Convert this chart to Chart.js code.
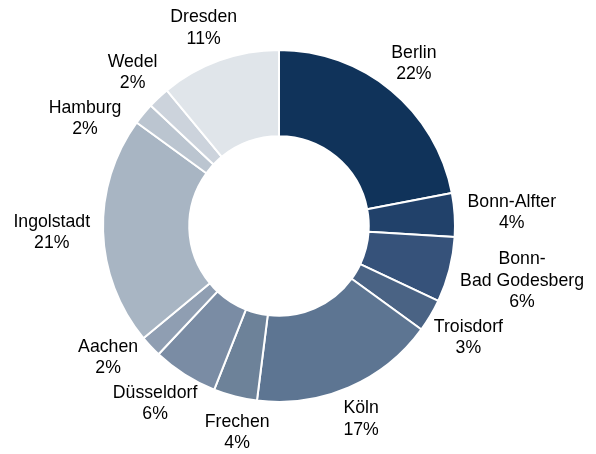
<!DOCTYPE html>
<html><head><meta charset="utf-8">
<script src="https://cdn.jsdelivr.net/npm/chart.js@4/dist/chart.umd.min.js"></script>
<style>html,body{margin:0;padding:0;background:#fff}canvas{display:block}</style>
</head><body>
<canvas id="c" width="596" height="454"></canvas>
<script>
const categories = ['Berlin','Bonn-Alfter','Bonn-\nBad Godesberg','Troisdorf','Köln','Frechen','Düsseldorf','Aachen','Ingolstadt','Hamburg','Wedel','Dresden'];
const shares = [22,4,6,3,17,4,6,2,21,2,2,11];
const sliceColors = ['#10335A','#21416A','#36527A','#4A6384','#5D7592','#6D8299','#7A8CA4','#8F9EB2','#A8B5C3','#BBC5D0','#CCD3DC','#E0E5EA'];

const outsideLabels = {
  id: 'outsideLabels',
  afterDatasetsDraw(chart) {
    const ctx = chart.ctx;
    const meta = chart.getDatasetMeta(0);
    const data = chart.data.datasets[0].data;
    const total = data.reduce((a, b) => a + b, 0);
    ctx.save();
    ctx.font = '17.7px "Liberation Sans", Arial, sans-serif';
    ctx.fillStyle = '#000';
    ctx.textAlign = 'center';
    ctx.textBaseline = 'middle';
    const LH = 21.5, GAP = 13, PAD = 3;
    const items = meta.data.map((arc, i) => {
      const p = arc.getProps(['x', 'y', 'startAngle', 'endAngle', 'outerRadius'], true);
      const lines = String(chart.data.labels[i]).split('\n').concat([Math.round(data[i] / total * 100) + '%']);
      const w = Math.max(...lines.map(l => ctx.measureText(l).width));
      const h = lines.length * LH;
      return { i, p, lines, w, h, mid: (p.startAngle + p.endAngle) / 2, v: data[i] };
    });
    const order = items.slice().sort((a, b) => b.v - a.v || b.i - a.i);
    const placed = [];
    const boxAt = (it, ang) => {
      const r = it.p.outerRadius + GAP;
      const c = Math.cos(ang), s = Math.sin(ang);
      const cx = it.p.x + r * c + c * it.w / 2;
      const cy = it.p.y + r * s + s * it.h / 2;
      return { cx, cy, x0: cx - it.w / 2 - PAD, x1: cx + it.w / 2 + PAD, y0: cy - it.h / 2 - 1, y1: cy + it.h / 2 + 1 };
    };
    const hits = b => placed.some(q => b.x0 < q.x1 && b.x1 > q.x0 && b.y0 < q.y1 && b.y1 > q.y0);
    order.forEach(it => {
      let best = boxAt(it, it.mid);
      if (hits(best)) {
        for (let k = 1; k <= 120; k++) {
          const d = k * Math.PI / 360;
          const a = boxAt(it, it.mid + d), b = boxAt(it, it.mid - d);
          if (!hits(a)) { best = a; break; }
          if (!hits(b)) { best = b; break; }
        }
      }
      placed.push(best);
      it.box = best;
    });
    items.forEach(it => {
      const b = it.box;
      const top = b.cy - it.h / 2 + LH / 2;
      it.lines.forEach((l, j) => ctx.fillText(l, b.cx, top + j * LH));
    });
    ctx.restore();
  }
};

new Chart(document.getElementById('c'), {
  type: 'doughnut',
  data: {
    labels: categories,
    datasets: [{
      data: shares,
      backgroundColor: sliceColors,
      borderColor: '#ffffff',
      borderWidth: 2,
      radius: 176,
      cutout: '51%'
    }]
  },
  options: {
    responsive: false,
    animation: false,
    layout: { padding: { left: 0, right: 38, top: 0, bottom: 2 } },
    plugins: { legend: { display: false }, tooltip: { enabled: false } }
  },
  plugins: [outsideLabels]
});
</script>
</body></html>
